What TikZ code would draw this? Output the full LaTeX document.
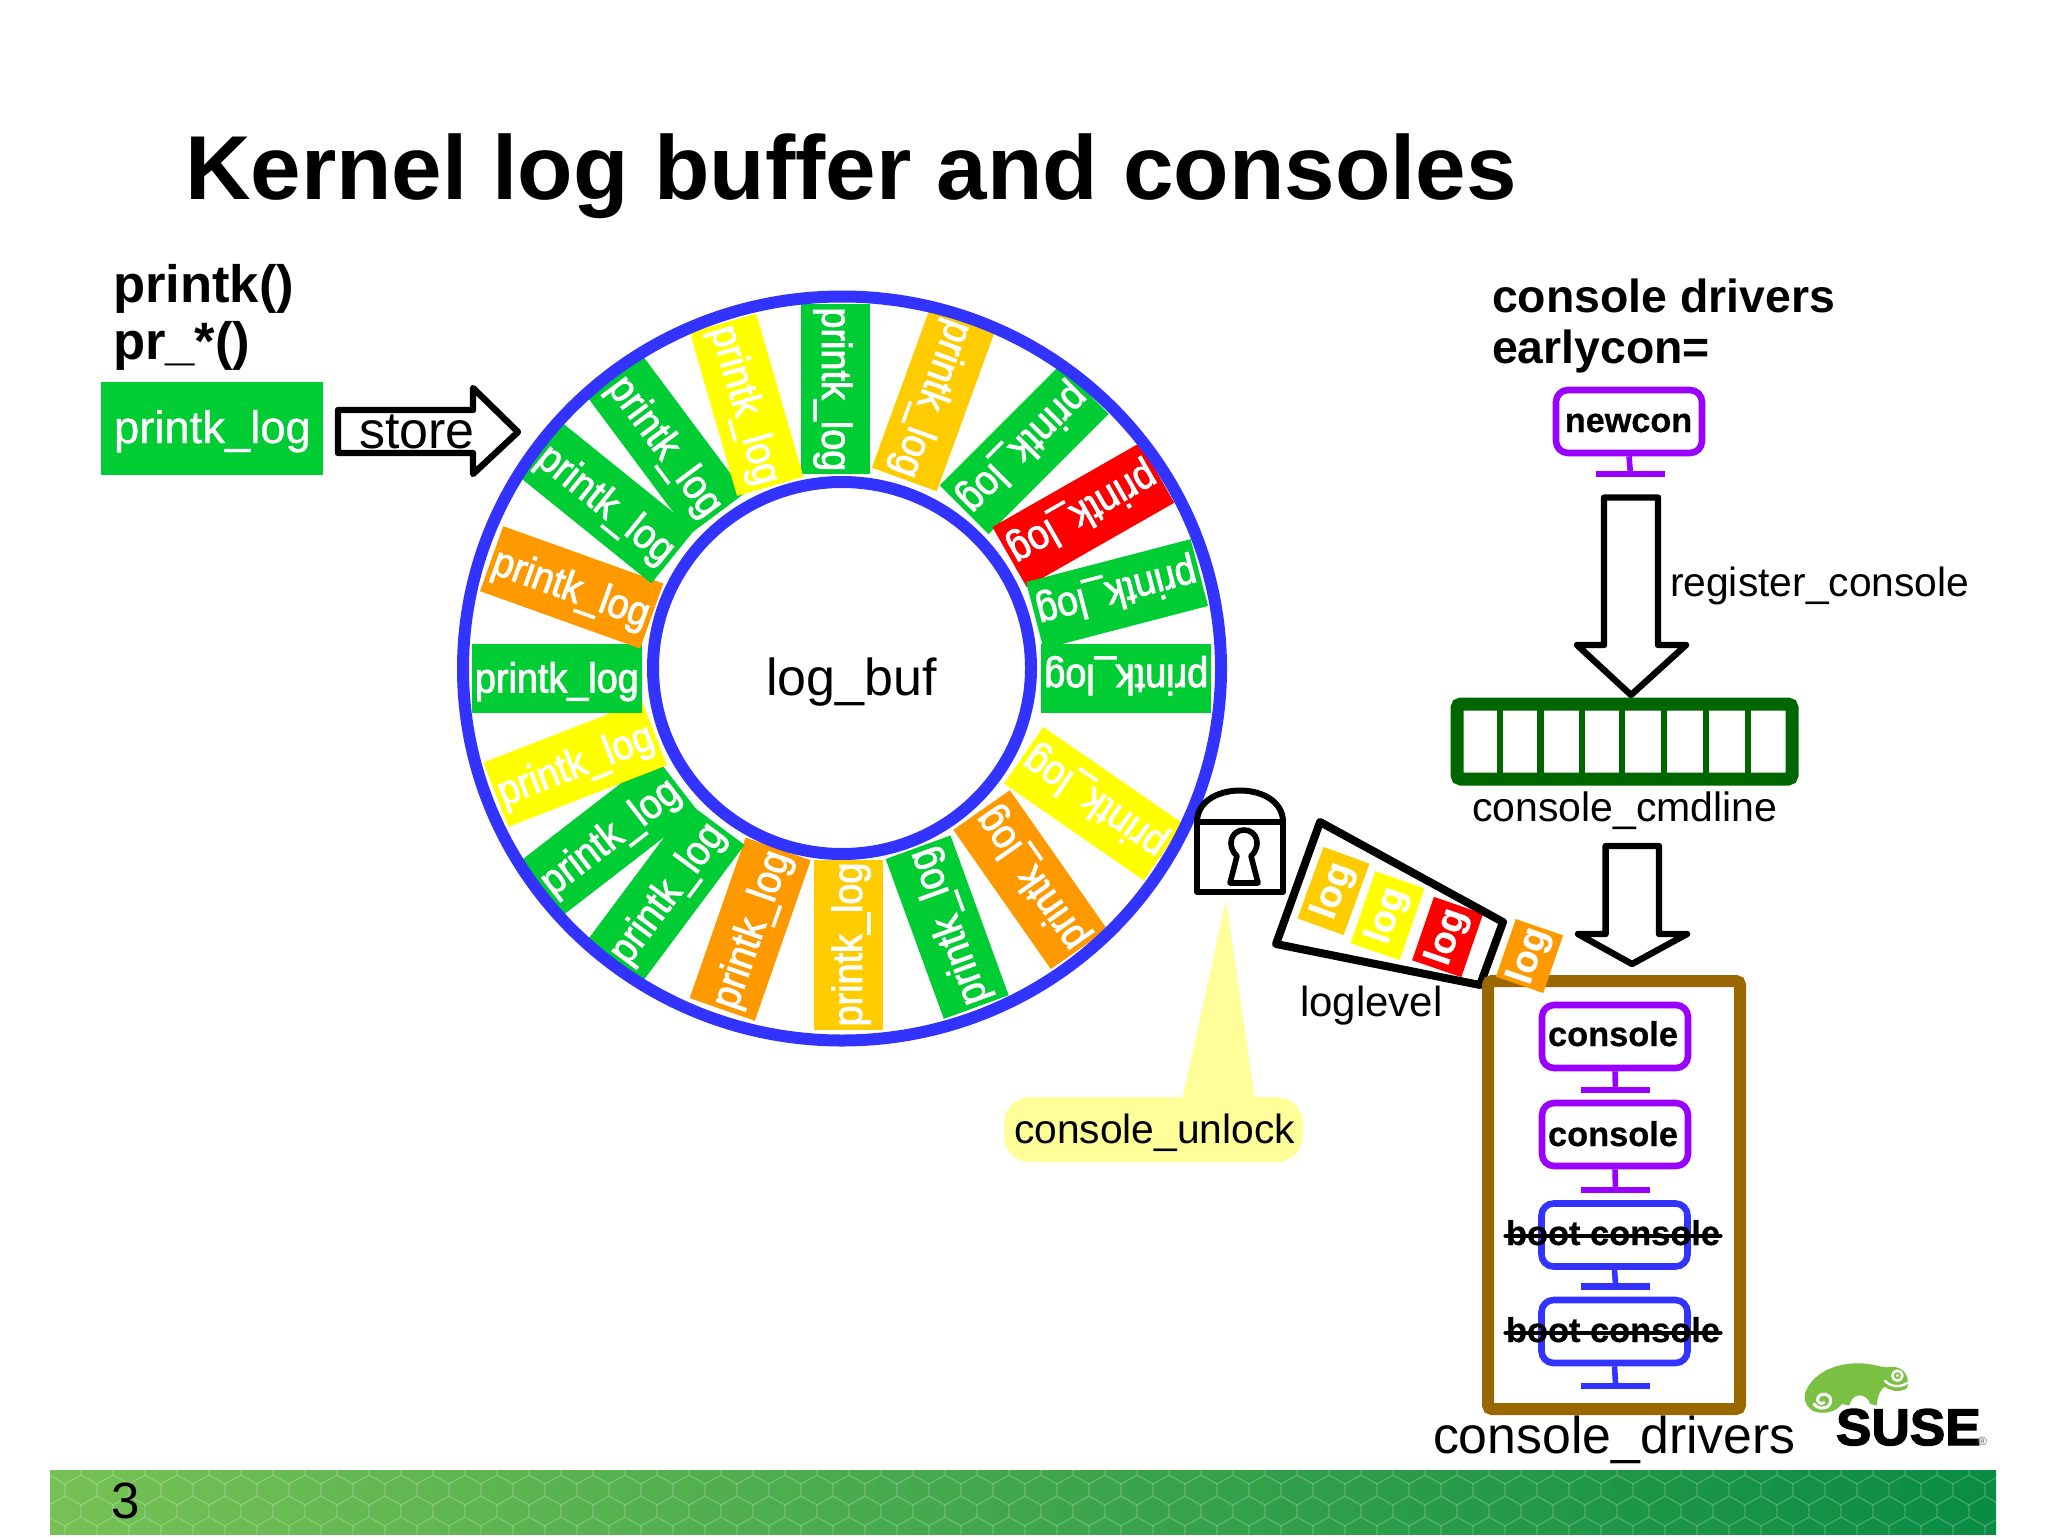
\documentclass[tikz,border=0pt]{standalone}
\usepackage{fontspec}
\usetikzlibrary{shapes.geometric}
\setmainfont{Liberation Sans}
\newfontfamily\ringf[FakeStretch=.9,FakeBold=2]{Liberation Sans}
\newfontfamily\boldf[FakeBold=.6]{Liberation Sans Bold}
\newfontfamily\entryf[FakeBold=.8]{Liberation Sans}
\newfontfamily\susef[FakeBold=2.5,FakeStretch=1.03]{Liberation Sans Bold}
\definecolor{pgreen}{HTML}{00CC33}
\definecolor{pamber}{HTML}{FFCC00}
\definecolor{pyellow}{HTML}{FFFF00}
\definecolor{pred}{HTML}{FF0000}
\definecolor{porange}{HTML}{FF9900}
\definecolor{pblue}{HTML}{3333FF}
\definecolor{ppurple}{HTML}{9900FF}
\definecolor{pbrown}{HTML}{996600}
\definecolor{pdark}{HTML}{006600}
\definecolor{pcallout}{HTML}{FFFF99}
\definecolor{psuse}{HTML}{7AC143}
\definecolor{bandl}{HTML}{76C155}
\definecolor{bandr}{HTML}{0A8C44}
\newcommand{\fsz}[1]{\fontsize{#1}{#1}\selectfont}
\tikzset{
  txt/.style={anchor=base west,inner sep=0pt,outer sep=0pt},
  ringbox/.style={minimum width=85pt,minimum height=34.5pt,inner sep=0pt,text=white,
    font=\ringf\fsz{21},text height=18.3pt,text depth=4.5pt},
  logbox/.style={inner sep=0pt,text=white,font=\boldf\fsz{19}},
  blockarrow/.style={draw=black,line width=3.2pt,line join=round,fill=white},
  conbox/.style={draw=#1,line width=3.3pt,rounded corners=6pt,minimum width=73pt,minimum height=31.5pt,inner sep=0pt,fill=white},
  constem/.style={draw=#1,line width=2.8pt},
  conbar/.style={draw=#1,line width=3.3pt},
  boldtxt/.style={anchor=base,inner sep=0pt,font=\boldf\fsz{17.2}},
  strikeline/.style={draw=black,line width=2.2pt,line cap=round},
}
\begin{document}
\begin{tikzpicture}[x=0.5pt,y=-0.5pt]
\useasboundingbox[fill=white] (0,0) rectangle (2048,1536);

% footer band
\fill[left color=bandl,right color=bandr] (50,1470) rectangle (1996,1534);
\begin{scope}
\clip (50,1470) rectangle (1996,1534);
\foreach \j in {-1,0,1,2,3}{
  \pgfmathsetmacro{\yy}{1484+21*\j}
  \pgfmathsetmacro{\xo}{int(mod(\j+2,2))==0 ? 65 : 49}
  \foreach \k in {0,...,61}{
    \pgfmathsetmacro{\xx}{\xo+32*\k}
    \draw[white,opacity=.22,line width=.6pt]
      (\xx,\yy) -- (\xx,\yy+12) (\xx-16,\yy+21) -- (\xx,\yy+12) -- (\xx+16,\yy+21);
  }
}
\end{scope}
\node[txt,font=\fsz{25.5}] (pagenum) at (111,1518) {3};

% title
\node[txt,font=\bfseries\fsz{45.4}] (title) at (185,199.5) {Kernel log buffer and consoles};

% left column
\node[txt,font=\bfseries\fsz{26.3}] (fn1) at (113,302) {printk()};
\node[txt,font=\bfseries\fsz{26.3}] (fn2) at (113,359) {pr\_*()};
\node[fill=pgreen,minimum width=111pt,minimum height=46.5pt,inner sep=0pt] (entry) at (212,428.5) {};
\node[txt,font=\entryf\fsz{22.7},text=white] (entrytxt) at (114,443) {printk\_log};
\draw[blockarrow] (338,410) -- (473,410) -- (473,388) -- (518,432) -- (473,474) -- (473,453) -- (338,453) -- cycle;
\node[txt,font=\fsz{26}] (storetxt) at (359,448) {store};

% ring segments: colour / centre in 1.96x crop coordinates / rotation
\foreach \i/\c/\zx/\zy/\a in {
  1/pgreen/776/234/-90,
  2/pamber/967/254/-110,
  3/pgreen/1145/352/-135,
  4/pred/1261/480/-150.3,
  5/pgreen/1327/635/-165.4,
  6/pgreen/1345/801/180,
  7/pyellow/1281/1046/145.3,
  8/porange/1157/1195/125,
  9/pgreen/994/1288/110,
  10/pamber/800/1322/90,
  11/porange/608/1292/70.8,
  12/pgreen/443/1220/53.3,
  13/pgreen/332/1109/37.7,
  14/pyellow/265/968/21.2,
  15/pgreen/229/801/0,
  16/porange/258/622/-19.7,
  17/pgreen/327/457/-38.9,
  18/pgreen/444/344/-53.3,
  19/pyellow/601/264/-73.9}{
  \node[ringbox,fill=\c,rotate=\a] (seg\i) at ({440+\zx/1.96},{270+\zy/1.96}) {printk\_log};
}
\node[draw=pblue,line width=6pt,ellipse,minimum width=379pt,minimum height=372pt,inner sep=0pt] (ringout) at (842,668.5) {};
\node[draw=pblue,fill=white,line width=6pt,ellipse,minimum width=189pt,minimum height=186pt,inner sep=0pt] (ringin) at (842,668) {};
\node[txt,font=\fsz{26}] (logbuf) at (766,695.5) {log\_buf};

% callout
\fill[pcallout] (1226,900) -- (1255,1100) -- (1182,1100) -- cycle;
\node[fill=pcallout,rounded corners=13pt,minimum width=149.5pt,minimum height=32.5pt,inner sep=0pt] (unlockbg) at (1153.5,1129.5) {};
\node[txt,font=\fsz{20.4}] (unlock) at (1014,1143) {console\_unlock};

% padlock
\draw[black,line width=3pt,line join=round] (1197,892) -- (1197,822) -- (1283,822) -- (1283,892) -- cycle;
\draw[black,line width=3pt] (1197,822) .. controls (1197,780) and (1283,780) .. (1283,822);
\draw[black,line width=2.8pt,line join=round] (1237,856) .. controls (1226,846) and (1231,830) .. (1244,830)
  .. controls (1257,830) and (1262,846) .. (1251,856) -- (1258,883) -- (1230,883) -- cycle;

% wedge with log entries
\node[logbox,fill=pamber,minimum width=38pt,minimum height=24.5pt,rotate=70] (lg1) at (1333.5,891) {log};
\node[logbox,fill=pyellow,minimum width=38pt,minimum height=26pt,rotate=71] (lg2) at (1387.5,915.7) {log};
\node[logbox,fill=pred,minimum width=33.5pt,minimum height=26pt,rotate=71] (lg3) at (1447.6,937) {log};
\draw[black,line width=4pt,line join=round] (1320,822) -- (1503,922) -- (1480,985) -- (1276,944) -- cycle;
\node[txt,font=\fsz{21}] (loglevel) at (1300,1016) {loglevel};

% console_drivers frame
\node[draw=pbrown,line width=6pt,rounded corners=2pt,minimum width=126pt,minimum height=214pt,inner sep=0pt] (frame) at (1614,1195) {};
\node[logbox,fill=porange,minimum width=30.5pt,minimum height=25pt,rotate=71] (lg4) at (1529.5,956) {log};
\node[txt,font=\fsz{25.9}] (drivers) at (1433,1453) {console\_drivers};

% consoles
\foreach \n/\col/\cy/\by in {
  c1/ppurple/1036.5/1090,
  c2/ppurple/1134.5/1190}{
  \node[conbox=\col] (\n) at (1615,\cy) {};
  \coordinate (\n b) at (1615.5,\by);
  \draw[constem=\col] (\n.south) -- (\n b);
  \draw[conbar=\col] ([xshift=-17.3pt]\n b) -- ([xshift=17.3pt]\n b);
}
\node[boldtxt] (c1t) at (1613,1046) {console};
\node[boldtxt] (c2t) at (1613,1146) {console};
\foreach \n/\cy/\by/\ty in {
  b1/1235/1286.5/1245,
  b2/1331.5/1386/1342}{
  \node[conbox=pblue] (\n) at (1614.5,\cy) {};
  \coordinate (\n b) at (1615.7,\by);
  \draw[constem=pblue] (\n.south) -- (\n b);
  \draw[conbar=pblue] ([xshift=-17.3pt]\n b) -- ([xshift=17.3pt]\n b);
  \node[boldtxt] (\n t) at (1613,\ty) {boot console};
  \draw[strikeline] ([yshift=4.5pt]\n t.base west) -- ([yshift=4.5pt]\n t.base east);
}

% right column, top
\node[txt,font=\bfseries\fsz{23.2}] (cd) at (1492,312) {console drivers};
\node[txt,font=\bfseries\fsz{23.2}] (ec) at (1492,363.5) {earlycon=};
\node[conbox=ppurple] (newcon) at (1629,421.5) {};
\node[boldtxt,font=\boldf\fsz{17.1}] (newcont) at (1628.5,432) {newcon};
\coordinate (newconb) at (1630.5,474);
\draw[constem=ppurple] (newcon.south) -- (newconb);
\draw[conbar=ppurple] ([xshift=-17.3pt]newconb) -- ([xshift=17.3pt]newconb);
\draw[blockarrow] (1604,497.5) -- (1658,497.5) -- (1658,645) -- (1686,645) -- (1631,695) -- (1577,645) -- (1604,645) -- cycle;
\node[txt,font=\fsz{20.4}] (regc) at (1670,596) {register\_console};

% console_cmdline
\node[draw=pdark,line width=6.5pt,rounded corners=2pt,minimum width=167.5pt,minimum height=37.5pt,inner sep=0pt] (cmd) at (1624.5,741.5) {};
\foreach \x in {1499.7,1540.3,1582,1622,1664,1706,1747.7}{
  \draw[pdark,line width=3.2pt] (\x,704) -- (\x,779);
}
\node[txt,font=\fsz{20.5}] (cmdt) at (1472,821) {console\_cmdline};
\draw[blockarrow] (1605.6,846) -- (1659,846) -- (1659,934) -- (1687,934) -- (1632,964) -- (1578,934) -- (1605.6,934) -- cycle;

% SUSE logo
\begin{scope}[shift={(1790,1350)},x=0.16667pt,y=-0.16667pt]
\fill[psuse] (62,178) .. controls (45,165) and (38,140) .. (50,118)
  .. controls (72,72) and (128,42) .. (195,40)
  .. controls (240,38) and (265,50) .. (290,52)
  .. controls (315,46) and (345,55) .. (352,85)
  .. controls (356,102) and (354,114) .. (345,118)
  .. controls (325,128) and (300,122) .. (283,110)
  .. controls (270,120) and (262,140) .. (260,166)
  -- (240,162) .. controls (238,148) and (222,134) .. (205,136)
  .. controls (192,138) and (182,150) .. (178,166)
  -- (155,162) .. controls (150,172) and (130,186) .. (105,188)
  .. controls (88,189) and (72,186) .. (62,178) -- cycle;
\draw[white,line width=1.5pt,line cap=round] (102,158) .. controls (92,166) and (78,155) .. (84,142)
  .. controls (92,125) and (124,130) .. (122,154)
  .. controls (120,176) and (86,182) .. (72,162);
\draw[white,line width=1.3pt] (322,77) circle[radius=15];
\fill[white] (322,77) circle[radius=5];
\draw[white,line width=1.2pt,line cap=round] (285,92) .. controls (300,110) and (330,115) .. (352,98);
\end{scope}
\node[txt,font=\susef\fsz{25.8}] (suse) at (1836,1445) {SUSE};
\node[txt,font=\fsz{6},text=black!60] (susereg) at (1978,1445) {®};
\end{tikzpicture}
\end{document}
